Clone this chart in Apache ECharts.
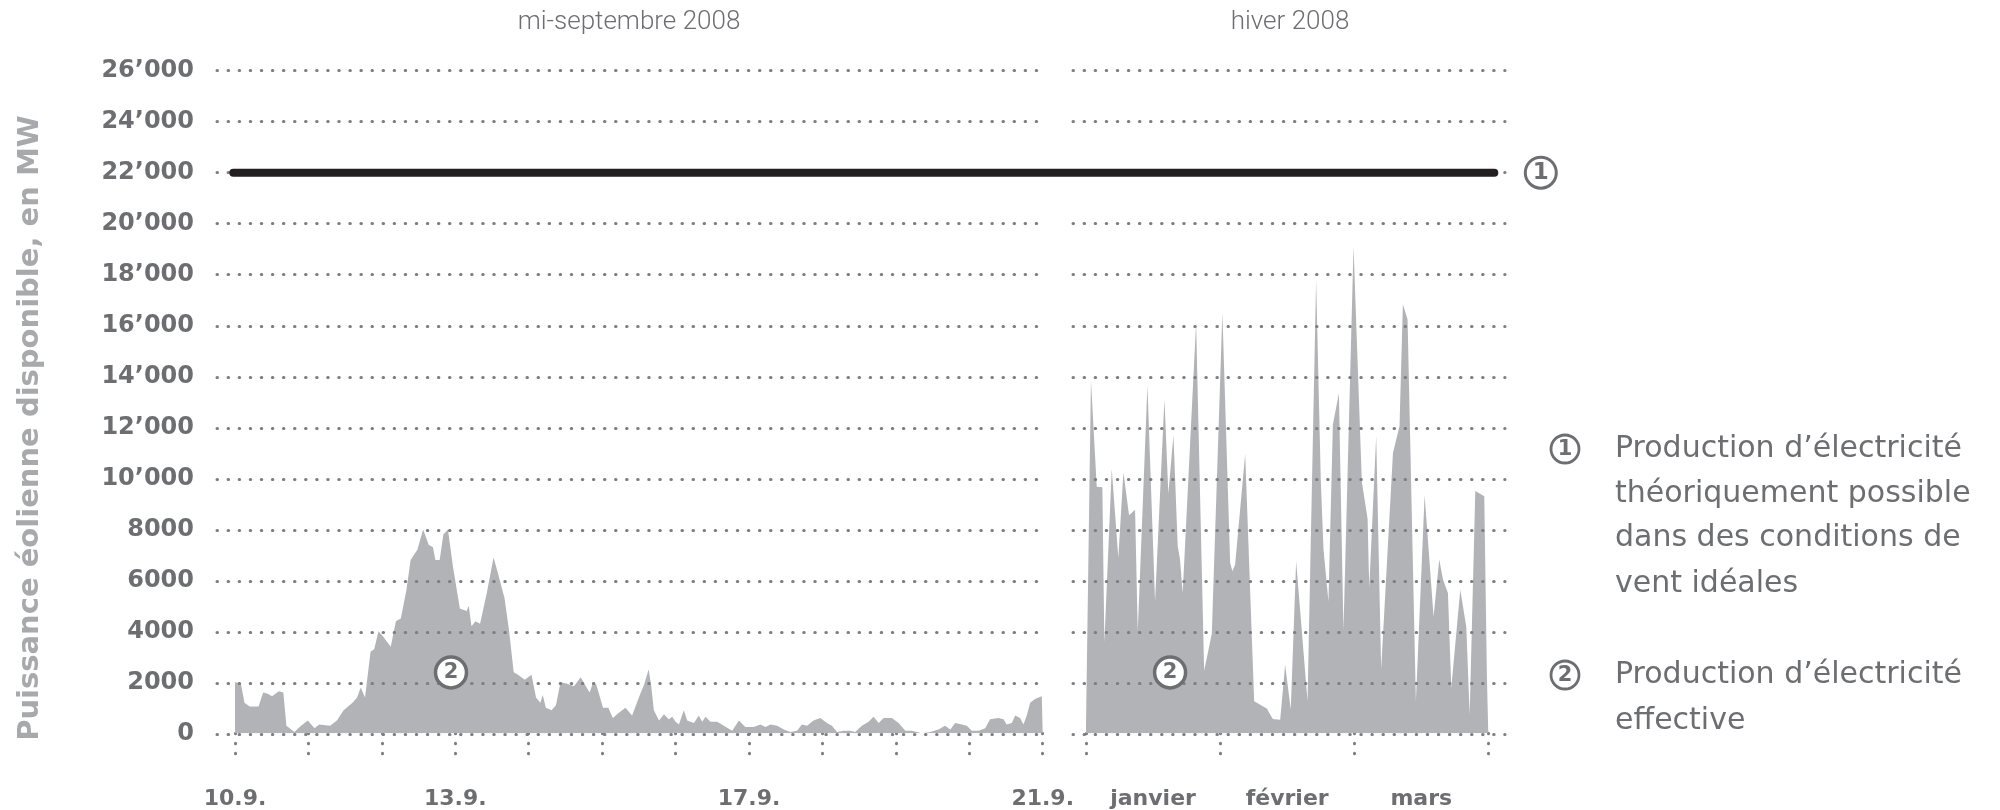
<!DOCTYPE html>
<html><head><meta charset="utf-8">
<script src="https://cdn.jsdelivr.net/npm/echarts@6/dist/echarts.min.js"></script>
<style>html,body{margin:0;padding:0;background:#fff}#c{width:2000px;height:810px}</style>
</head><body><div id="c"></div>
<script>
// ---- data ----
const septHours = [0, 1.9, 3.1, 4.8, 7.7, 9.2, 10.7, 12.1, 14.3, 15.8, 16.8, 19.4, 21.6, 23.8, 26.0, 27.5, 31.1, 33.3, 35.5, 38.4, 39.9, 41.1, 42.5, 44.3, 45.5, 46.9, 48.4, 50.9, 52.6, 54.2, 56.0, 57.4, 59.6, 61.5, 63.3, 64.7, 65.5, 66.9, 68.1, 69.6, 71.3, 73.5, 75.7, 76.4, 77.3, 78.6, 80.1, 82.3, 84.5, 85.9, 88.1, 89.6, 91.1, 92.5, 94.7, 96.9, 98.4, 99.8, 100.6, 101.6, 103.5, 104.9, 106.4, 108.3, 110.8, 113.0, 114.4, 115.9, 117.1, 118.1, 120.3, 122.0, 123.5, 125.4, 127.6, 129.8, 132.0, 133.7, 135.2, 136.0, 136.9, 138.6, 140.2, 141.8, 142.9, 144.0, 145.1, 146.7, 147.8, 150.0, 151.6, 152.7, 153.8, 155.4, 157.6, 159.8, 162.5, 164.7, 166.8, 169.6, 171.7, 173.4, 175.0, 177.2, 179.4, 181.5, 183.7, 185.3, 187.0, 189.1, 191.3, 193.5, 195.1, 196.8, 198.9, 201.1, 202.7, 204.9, 207.1, 208.7, 210.4, 212.0, 214.7, 216.9, 219.1, 221.2, 222.9, 224.5, 227.2, 229.9, 232.1, 233.8, 235.4, 237.6, 239.2, 240.8, 243.0, 245.2, 246.8, 249.5, 251.2, 252.2, 253.9, 255.0, 256.6, 257.7, 258.8, 259.9, 261.5, 263.7, 264];
const septMW = [2000, 1950, 1200, 1050, 1050, 1600, 1550, 1450, 1650, 1600, 300, 50, 300, 500, 200, 350, 300, 500, 900, 1200, 1400, 1800, 1400, 3200, 3300, 4000, 3800, 3400, 4400, 4500, 5600, 6800, 7200, 8000, 7400, 7300, 6800, 6800, 7800, 8000, 6500, 4900, 4800, 5000, 4200, 4400, 4300, 5500, 6900, 6300, 5300, 4000, 2400, 2300, 2100, 2300, 1400, 1200, 1500, 1000, 900, 1100, 2000, 1950, 1850, 2200, 1900, 1600, 2000, 1900, 1000, 1000, 600, 800, 1000, 700, 1400, 1900, 2500, 1900, 900, 500, 750, 550, 650, 450, 350, 900, 500, 400, 700, 450, 650, 450, 450, 300, 100, 500, 250, 250, 350, 250, 350, 300, 150, 50, 100, 350, 300, 500, 600, 400, 300, 50, 100, 100, 50, 300, 450, 650, 400, 600, 600, 400, 100, 100, 50, 0, 50, 150, 300, 150, 400, 350, 300, 100, 100, 200, 550, 600, 550, 350, 400, 700, 600, 350, 700, 1200, 1350, 1450, 1450];
const septTickHours = [0, 72, 168, 264];
const septTickLabels = ['10.9.', '13.9.', '17.9.', '21.9.'];

const winterMonths = [0, 0.037, 0.080, 0.122, 0.137, 0.192, 0.241, 0.279, 0.321, 0.366, 0.386, 0.458, 0.515, 0.585, 0.614, 0.652, 0.684, 0.701, 0.721, 0.821, 0.881, 0.938, 1.017, 1.075, 1.092, 1.112, 1.187, 1.254, 1.348, 1.393, 1.448, 1.485, 1.527, 1.567, 1.652, 1.716, 1.751, 1.771, 1.808, 1.841, 1.886, 1.920, 1.995, 2.057, 2.100, 2.112, 2.164, 2.201, 2.289, 2.338, 2.363, 2.398, 2.460, 2.525, 2.592, 2.634, 2.662, 2.699, 2.724, 2.791, 2.836, 2.861, 2.903, 2.970, 2.990, 3.0];
const winterMW = [300, 13850, 9670, 9650, 3580, 10380, 6890, 10240, 8550, 8770, 4000, 13650, 5170, 13120, 9400, 11690, 7350, 6820, 5500, 16100, 2450, 3910, 16500, 6690, 6360, 6625, 10960, 1260, 970, 560, 530, 2690, 930, 6760, 1260, 17800, 9900, 7220, 5170, 12120, 13340, 4040, 19100, 9870, 8410, 5700, 11660, 2520, 11000, 12060, 16830, 16230, 1260, 9340, 4570, 6820, 6030, 5500, 1790, 5630, 4170, 730, 9510, 9300, 2120, 2100];
const winterCategories = ['janvier', 'février', 'mars'];

const yTicks = [0, 2000, 4000, 6000, 8000, 10000, 12000, 14000, 16000, 18000, 20000, 22000, 24000, 26000];
const yTickLabels = ['0', '2000', '4000', '6000', '8000', '10’000', '12’000', '14’000', '16’000', '18’000', '20’000', '22’000', '24’000', '26’000'];

const theoreticalMW = 22000;
const septMarker = [70.6, 2390];
const winterMarker = [0.627, 2390];

const panelTitles = ['mi-septembre 2008', 'hiver 2008'];
const yAxisTitle = 'Puissance éolienne disponible, en MW';
const legendNumbers = ['1', '2'];
const legendLines = [
  ['Production d’électricité', 'théoriquement possible', 'dans des conditions de', 'vent idéales'],
  ['Production d’électricité', 'effective']
];

// ---- styling ----
const GRAY = '#6d6e71';
const DOT = '#7d7e81';
const AREA = '#b1b3b6';
const FONT = 'DejaVu Sans';
const TOP = 70.6, H = 663.4;

const dotted = { color: DOT, width: 3, type: [0.5, 10.57], cap: 'round' };
const tickStyle = { show: true, length: 21, lineStyle: { color: DOT, width: 3, type: [0.5, 9.5], cap: 'round' } };
const yRange = { type: 'value', min: 0, max: 26000, interval: 2000 };

const chart = echarts.init(document.getElementById('c'), null, { renderer: 'canvas' });

const graphic = [];
panelTitles.forEach((t, i) => {
  graphic.push({ type: 'text', x: [629, 1290][i], y: 22, style: {
    text: t, fill: GRAY, fontSize: 26, fontFamily: 'Roboto', fontWeight: 300,
    align: 'center', verticalAlign: 'middle', textAlign: 'center', textVerticalAlign: 'middle' } });
});
graphic.push({ type: 'text', x: 30, y: 428, rotation: Math.PI / 2, style: {
  text: yAxisTitle, fill: '#a7a9ac', fontSize: 29, fontFamily: FONT, fontWeight: 'bold',
  align: 'center', verticalAlign: 'middle', textAlign: 'center', textVerticalAlign: 'middle' } });
const legendY = [[449, 494, 538, 584], [675, 721]];
legendNumbers.forEach((n, i) => {
  const cy = legendY[i][0];
  graphic.push({ type: 'circle', shape: { cx: 1565, cy: cy, r: 14 }, style: { fill: 'none', stroke: GRAY, lineWidth: 2.8 } });
  graphic.push({ type: 'text', x: 1565, y: cy + 1, style: { text: n, fill: GRAY, fontSize: 21,
    fontFamily: FONT, fontWeight: 'bold', align: 'center', verticalAlign: 'middle',
    textAlign: 'center', textVerticalAlign: 'middle' } });
  legendLines[i].forEach((line, j) => {
    graphic.push({ type: 'text', x: 1615, y: legendY[i][j], style: { text: line, fill: GRAY,
      fontSize: 30, fontFamily: FONT, fontWeight: 'normal', align: 'left', verticalAlign: 'middle',
      textAlign: 'left', textVerticalAlign: 'middle' } });
  });
});

const markerSeries = (xi, yi, pt) => ({
  type: 'scatter', xAxisIndex: xi, yAxisIndex: yi, z: 6, data: [pt], symbol: 'circle', symbolSize: 31,
  itemStyle: { color: '#fff', borderColor: GRAY, borderWidth: 3.5, opacity: 1 },
  label: { show: true, position: 'inside', formatter: '2', color: GRAY, fontSize: 21, fontWeight: 'bold', fontFamily: FONT },
  silent: true
});

chart.setOption({
  animation: false,
  backgroundColor: '#fff',
  grid: [
    { left: 217, top: TOP, width: 830, height: H },
    { left: 235, top: TOP, width: 807.7, height: H },
    { left: 1073, top: TOP, width: 432, height: H },
    { left: 1086, top: TOP, width: 402.3, height: H },
    { left: 233.3, top: TOP, width: 1261, height: H }
  ],
  xAxis: [
    { gridIndex: 0, type: 'value', min: 0, max: 1, show: false },
    { gridIndex: 1, type: 'value', position: 'bottom', min: 0, max: 264, interval: 24, offset: 12.7,
      axisLine: { show: false }, axisTick: tickStyle, splitLine: { show: false },
      axisLabel: { margin: 42, showMinLabel: true, showMaxLabel: true, color: GRAY, fontSize: 22, fontWeight: 'bold', fontFamily: FONT,
        formatter: v => { const i = septTickHours.indexOf(v); return i >= 0 ? septTickLabels[i] : ''; } } },
    { gridIndex: 2, type: 'value', min: 0, max: 1, show: false },
    { gridIndex: 3, type: 'value', position: 'bottom', min: 0, max: 3, interval: 1, offset: 12.7,
      axisLine: { show: false }, axisTick: tickStyle, splitLine: { show: false }, axisLabel: { show: false } },
    { gridIndex: 3, type: 'category', position: 'bottom', data: winterCategories, boundaryGap: true, offset: 12.7,
      axisLine: { show: false }, axisTick: { show: false }, splitLine: { show: false },
      axisLabel: { margin: 42, color: GRAY, fontSize: 22, fontWeight: 'bold', fontFamily: FONT } },
    { gridIndex: 4, type: 'value', min: 0, max: 1, show: false }
  ],
  yAxis: [
    Object.assign({ gridIndex: 0, z: 3, axisLine: { show: false }, axisTick: { show: false },
      splitLine: { show: true, lineStyle: dotted },
      axisLabel: { margin: 23, color: GRAY, fontSize: 24, fontWeight: 'bold', fontFamily: FONT,
        formatter: v => yTickLabels[yTicks.indexOf(v)] } }, yRange),
    Object.assign({ gridIndex: 1, show: false }, yRange),
    Object.assign({ gridIndex: 2, z: 3, axisLine: { show: false }, axisTick: { show: false },
      splitLine: { show: true, lineStyle: dotted }, axisLabel: { show: false } }, yRange),
    Object.assign({ gridIndex: 3, show: false }, yRange),
    Object.assign({ gridIndex: 4, show: false }, yRange)
  ],
  series: [
    { type: 'line', xAxisIndex: 1, yAxisIndex: 1, z: 2, symbol: 'none', showSymbol: false, silent: true,
      data: septHours.map((h, i) => [h, septMW[i]]),
      lineStyle: { width: 0 }, areaStyle: { color: AREA, opacity: 1 } },
    { type: 'line', xAxisIndex: 3, yAxisIndex: 3, z: 2, symbol: 'none', showSymbol: false, silent: true,
      data: winterMonths.map((m, i) => [m, winterMW[i]]),
      lineStyle: { width: 0 }, areaStyle: { color: AREA, opacity: 1 } },
    { type: 'line', xAxisIndex: 5, yAxisIndex: 4, z: 5, symbol: 'none', showSymbol: false, clip: false, silent: true,
      data: [[0, theoreticalMW], [1, theoreticalMW]],
      lineStyle: { width: 8, color: '#231f20', cap: 'round' },
      endLabel: { show: true, distance: 31, formatter: '{c|1}',
        rich: { c: { width: 31, height: 31, lineHeight: 31, align: 'center', verticalAlign: 'middle',
          borderColor: GRAY, borderWidth: 3, borderRadius: 17, color: GRAY, fontSize: 23, fontWeight: 'bold', fontFamily: FONT } } } },
    markerSeries(1, 1, septMarker),
    markerSeries(3, 3, winterMarker)
  ],
  graphic: graphic
});
</script></body></html>
